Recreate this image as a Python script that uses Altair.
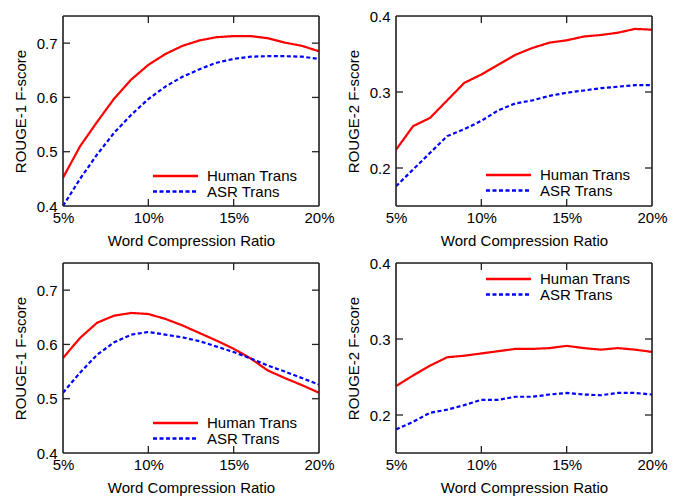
import altair as alt
import pandas as pd

ratios = list(range(5, 21))

r1_human_a = [0.452, 0.51, 0.555, 0.598, 0.633, 0.66, 0.68, 0.695, 0.705, 0.711, 0.713, 0.713, 0.709, 0.701, 0.695, 0.685]
r1_asr_a = [0.40, 0.45, 0.495, 0.535, 0.568, 0.597, 0.62, 0.638, 0.652, 0.664, 0.671, 0.675, 0.676, 0.676, 0.675, 0.671]
r2_human_a = [0.224, 0.255, 0.266, 0.289, 0.312, 0.323, 0.336, 0.349, 0.358, 0.365, 0.368, 0.373, 0.375, 0.378, 0.383, 0.382]
r2_asr_a = [0.176, 0.198, 0.220, 0.242, 0.251, 0.262, 0.276, 0.285, 0.289, 0.295, 0.299, 0.302, 0.305, 0.307, 0.309, 0.309]
r1_human_b = [0.575, 0.612, 0.640, 0.653, 0.658, 0.656, 0.647, 0.635, 0.621, 0.607, 0.592, 0.574, 0.552, 0.538, 0.525, 0.511]
r1_asr_b = [0.511, 0.548, 0.581, 0.604, 0.618, 0.623, 0.618, 0.613, 0.606, 0.596, 0.586, 0.574, 0.561, 0.550, 0.538, 0.526]
r2_human_b = [0.238, 0.252, 0.265, 0.276, 0.278, 0.281, 0.284, 0.287, 0.287, 0.288, 0.291, 0.288, 0.286, 0.288, 0.286, 0.283]
r2_asr_b = [0.181, 0.191, 0.203, 0.207, 0.213, 0.220, 0.220, 0.224, 0.224, 0.227, 0.229, 0.227, 0.226, 0.229, 0.229, 0.227]

series_names = ["Human Trans", "ASR Trans"]
series_colors = ["#ff0000", "#0000ff"]
x_ticks = [5, 10, 15, 20]
x_inner_ticks = [10, 15]
r1_ticks = [0.4, 0.5, 0.6, 0.7]
r1_inner = [0.5, 0.6, 0.7]
r2_ticks = [0.2, 0.3, 0.4]
r2_inner = [0.2, 0.3]

W, H = 256, 190
FONT = "Liberation Sans"
FS = 15
TL = 7
FRAME = "#222222"


def panel(human, asr, ytitle, ydomain, yticks, yinner, legend_top):
    df = pd.DataFrame({
        "ratio": ratios * 2,
        "score": human + asr,
        "series": [series_names[0]] * len(ratios) + [series_names[1]] * len(ratios),
    })
    xs = alt.Scale(domain=[5, 20], nice=False)
    ys = alt.Scale(domain=ydomain, nice=False, zero=False)
    cs = alt.Scale(domain=series_names, range=series_colors)
    ds = alt.Scale(domain=series_names, range=[[1, 0], [4, 2.5]])
    lines = alt.Chart(df).mark_line(strokeWidth=2.2, clip=True).encode(
        x=alt.X("ratio:Q", scale=xs, axis=alt.Axis(
            values=x_ticks, labelExpr="datum.value + '%'", title="Word Compression Ratio",
            grid=False, ticks=False, domain=False, labelPadding=4, titlePadding=8,
            labelFontSize=FS, titleFontSize=FS, labelColor="black", titleColor="black",
            titleFontWeight="normal", labelFont=FONT, titleFont=FONT, labelFlush=False)),
        y=alt.Y("score:Q", scale=ys, axis=alt.Axis(
            values=yticks, format=".1f", title=ytitle, grid=False, ticks=False, domain=False,
            labelPadding=6, titlePadding=8, labelFontSize=FS, titleFontSize=FS,
            labelColor="black", titleColor="black", titleFontWeight="normal",
            labelFont=FONT, titleFont=FONT, labelFlush=False)),
        color=alt.Color("series:N", scale=cs, legend=None),
        strokeDash=alt.StrokeDash("series:N", scale=ds, legend=None),
    )
    ydf = pd.DataFrame({"score": yinner})
    xdf = pd.DataFrame({"ratio": x_inner_ticks})
    tick_style = dict(color=FRAME, strokeWidth=1.3)
    left = alt.Chart(ydf).mark_rule(**tick_style).encode(
        y=alt.Y("score:Q", scale=ys), x=alt.value(0), x2=alt.value(TL))
    right = alt.Chart(ydf).mark_rule(**tick_style).encode(
        y=alt.Y("score:Q", scale=ys), x=alt.value(W - TL), x2=alt.value(W))
    bottom = alt.Chart(xdf).mark_rule(**tick_style).encode(
        x=alt.X("ratio:Q", scale=xs), y=alt.value(H - TL), y2=alt.value(H))
    top = alt.Chart(xdf).mark_rule(**tick_style).encode(
        x=alt.X("ratio:Q", scale=xs), y=alt.value(0), y2=alt.value(TL))
    fdf = pd.DataFrame({"f": [0]})
    frame_style = dict(color=FRAME, strokeWidth=1.6)
    frame = [
        alt.Chart(fdf).mark_rule(**frame_style).encode(x=alt.value(0), y=alt.value(0), y2=alt.value(H)),
        alt.Chart(fdf).mark_rule(**frame_style).encode(x=alt.value(W), y=alt.value(0), y2=alt.value(H)),
        alt.Chart(fdf).mark_rule(**frame_style).encode(y=alt.value(0), x=alt.value(0), x2=alt.value(W)),
        alt.Chart(fdf).mark_rule(**frame_style).encode(y=alt.value(H), x=alt.value(0), x2=alt.value(W)),
    ]

    layers = [lines, left, right, bottom, top] + frame
    for i, name in enumerate(series_names):
        ldf = pd.DataFrame({"series": [name]})
        yy = legend_top + i * 15.5
        layers.append(alt.Chart(ldf).mark_rule(strokeWidth=2.5).encode(
            x=alt.value(90), x2=alt.value(135), y=alt.value(yy),
            color=alt.Color("series:N", scale=cs, legend=None),
            strokeDash=alt.StrokeDash("series:N", scale=ds, legend=None)))
        layers.append(alt.Chart(ldf).mark_text(
            align="left", baseline="middle", font=FONT, fontSize=FS, color="black").encode(
            x=alt.value(144), y=alt.value(yy), text="series:N"))
    return alt.layer(*layers).properties(width=W, height=H)


p1 = panel(r1_human_a, r1_asr_a, "ROUGE-1 F-score", [0.4, 0.75], r1_ticks, r1_inner, 160)
p2 = panel(r2_human_a, r2_asr_a, "ROUGE-2 F-score", [0.15, 0.4], r2_ticks, r2_inner, 159)
p3 = panel(r1_human_b, r1_asr_b, "ROUGE-1 F-score", [0.4, 0.75], r1_ticks, r1_inner, 160)
p4 = panel(r2_human_b, r2_asr_b, "ROUGE-2 F-score", [0.15, 0.4], r2_ticks, r2_inner, 16)


def res(c):
    return c.resolve_scale(x="independent", y="independent", color="independent", strokeDash="independent")


row1 = res(alt.hconcat(p1, p2, spacing=10))
row2 = res(alt.hconcat(p3, p4, spacing=10))

chart = res(alt.vconcat(row1, row2, spacing=6)).configure_view(
    stroke=None
).configure(background="white", padding={"left": 4, "top": 0, "right": 0, "bottom": 0})

chart.save("out.html", embed_options={"renderer": "svg", "actions": False})
